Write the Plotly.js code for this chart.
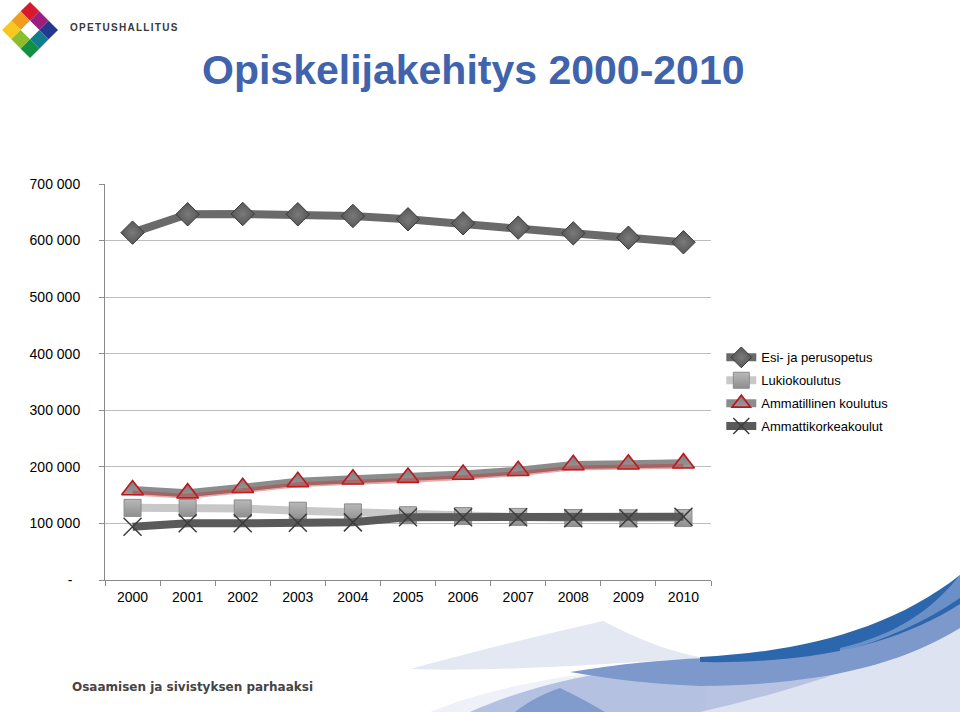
<!DOCTYPE html>
<html>
<head>
<meta charset="utf-8">
<script src="https://cdn.plot.ly/plotly-3.0.1.min.js"></script>
<style>
  html, body { margin: 0; padding: 0; background: #ffffff; }
  #wrap { position: relative; width: 960px; height: 712px; overflow: hidden; }
  #deco { position: absolute; left: 0; top: 0; }
  #brand { position: absolute; left: 70px; top: 22px; font-family: "Liberation Sans", Arial, sans-serif;
           font-size: 10px; font-weight: bold; letter-spacing: 1.3px; color: #3a3a3a; }
  #chart { position: absolute; left: 0; top: 0; width: 960px; height: 712px; }
</style>
</head>
<body>
<div id="wrap">
  <svg id="deco" width="960" height="712" viewBox="0 0 960 712">
    <!-- logo: 3x3 grid turned 45 degrees -->
    <g transform="translate(30,2) rotate(45)">
      <rect x="0" y="0" width="13.2" height="13.2" fill="#d7192d"/>
      <rect x="13.2" y="0" width="13.2" height="13.2" fill="#9a1f7f"/>
      <rect x="26.4" y="0" width="13.2" height="13.2" fill="#24388f"/>
      <rect x="0" y="13.2" width="13.2" height="13.2" fill="#f29c1f"/>
      <rect x="13.2" y="13.2" width="13.2" height="13.2" fill="#ffffff"/>
      <rect x="26.4" y="13.2" width="13.2" height="13.2" fill="#127c8c"/>
      <rect x="0" y="26.4" width="13.2" height="13.2" fill="#f8c81e"/>
      <rect x="13.2" y="26.4" width="13.2" height="13.2" fill="#8dbd2b"/>
      <rect x="26.4" y="26.4" width="13.2" height="13.2" fill="#119044"/>
    </g>
    <!-- waves -->
    <path d="M410,669 C480,650 545,634 603,621 C640,640 670,652 705,658 C600,664 500,672 410,669 Z" fill="#e4e8f3"/>
    <path d="M430,712 C470,695 520,684 570,676 C620,670 660,664 705,660 L705,712 Z" fill="#eef1f8"/>
    <path d="M470,712 C520,690 580,672 700,660 C820,650 900,625 960,585 L960,712 Z" fill="#aab9dc" fill-opacity="0.85"/>
    <path d="M700,712 C820,685 910,650 960,615 L960,712 Z" fill="#dde3f1"/>
    <path d="M570,672 C620,664 660,660 705,658 C820,652 900,630 960,600 L960,628 C900,665 820,685 700,686 C650,684 610,679 570,672 Z" fill="#7d98ca"/>
    <path d="M700,657 C800,652 890,630 960,575 L960,604 C900,642 820,664 700,662 Z" fill="#2c66ac"/>
    <path d="M840,648 C895,635 930,612 960,575 L960,598 C925,622 885,640 840,652 Z" fill="#86a2d3" fill-opacity="0.7"/>
    <path d="M515,712 C530,700 545,693 560,688 C575,695 590,703 605,712 Z" fill="#819ccc"/>
  </svg>
  <div id="brand">OPETUSHALLITUS</div>
  <div id="chart"></div>
</div>
<script>
const years = ["2000", "2001", "2002", "2003", "2004", "2005", "2006", "2007", "2008", "2009", "2010"];

const esiJaPerusopetus = [614000, 646500, 647000, 646500, 643500, 637600, 630500, 622800, 612800, 605000, 597000];
const lukiokoulutus = [127500, 127500, 126500, 122500, 119500, 114500, 113000, 111500, 109500, 109000, 109500];
const ammatillinen = [159000, 153500, 163000, 173500, 178000, 181000, 186500, 193000, 203500, 204500, 206500];
const ammattikorkeakoulut = [94000, 100200, 100200, 101300, 101900, 110800, 110800, 110800, 109000, 109000, 111900];

const yTickVals = [0, 100000, 200000, 300000, 400000, 500000, 600000, 700000];
const yTickText = ["-\u00a0\u00a0", "100 000", "200 000", "300 000", "400 000", "500 000", "600 000", "700 000"];

const traces = [
  {
    type: "scatter",
    mode: "lines+markers",
    name: "Esi- ja perusopetus",
    legendgroup: "a",
    x: years,
    y: esiJaPerusopetus,
    line: { color: "#6a6a6a", width: 8 },
    marker: {
      symbol: "diamond",
      size: 18,
      color: "#575757",
      gradient: { type: "radial", color: "#7a7a7a" },
      line: { color: "#3a3a3a", width: 1 },
    },
  },
  {
    type: "scatter",
    mode: "lines+markers",
    name: "Lukiokoulutus",
    legendgroup: "b",
    x: years,
    y: lukiokoulutus,
    line: { color: "#c8c8c8", width: 8 },
    marker: {
      symbol: "square",
      size: 17,
      color: "#b8b8b8",
      gradient: { type: "vertical", color: "#8f8f8f" },
      line: { color: "#8a8a8a", width: 1 },
    },
  },
  {
    // red shadow under the vocational line
    type: "scatter",
    mode: "lines",
    name: "shadow",
    showlegend: false,
    hoverinfo: "skip",
    x: years,
    y: ammatillinen,
    yaxis: "y2",
    line: { color: "rgba(200, 40, 40, 0.4)", width: 5 },
  },
  {
    type: "scatter",
    mode: "lines+markers",
    name: "Ammatillinen koulutus",
    legendgroup: "c",
    x: years,
    y: ammatillinen,
    line: { color: "#8c8c8c", width: 8 },
    marker: {
      symbol: "triangle-up",
      size: 19,
      color: "#7d7d7d",
      gradient: { type: "vertical", color: "#9a9a9a" },
      line: { color: "#c0141c", width: 1.6 },
    },
  },
  {
    type: "scatter",
    mode: "lines+markers",
    name: "Ammattikorkeakoulut",
    legendgroup: "d",
    x: years,
    y: ammattikorkeakoulut,
    line: { color: "#5a5a5a", width: 8 },
    marker: {
      symbol: "x-thin-open",
      size: 18,
      color: "#3c3c3c",
      line: { color: "#3c3c3c", width: 1.5 },
    },
  },
];

const layout = {
  width: 960,
  height: 712,
  margin: { l: 105, r: 249, t: 184, b: 132 },
  paper_bgcolor: "rgba(0,0,0,0)",
  plot_bgcolor: "rgba(0,0,0,0)",
  font: { family: "Liberation Sans, Arial, sans-serif", size: 14, color: "#000000" },
  title: {
    text: "<b>Opiskelijakehitys 2000-2010</b>",
    font: { family: "Liberation Sans, Arial, sans-serif", size: 41, color: "#3f64ad" },
    xref: "container",
    yref: "container",
    x: 0.493,
    y: 1 - 70 / 712,
    xanchor: "center",
    yanchor: "middle",
  },
  showlegend: true,
  legend: {
    x: 1.017,
    xanchor: "left",
    y: 0.6,
    yanchor: "top",
    traceorder: "grouped",
    tracegroupgap: 3,
    font: { size: 13, color: "#000000" },
    bgcolor: "rgba(0,0,0,0)",
  },
  xaxis: {
    type: "category",
    range: [-0.5, 10.5],
    showgrid: false,
    showline: true,
    linecolor: "#8a8a8a",
    linewidth: 1,
    ticks: "outside",
    tickson: "boundaries",
    ticklen: 5,
    tickcolor: "#8a8a8a",
    ticklabelstandoff: 4,
    tickfont: { size: 14, color: "#000000" },
    zeroline: false,
  },
  yaxis: {
    range: [0, 700000],
    tickvals: yTickVals,
    ticktext: yTickText,
    showgrid: true,
    gridcolor: "#bdbdbd",
    gridwidth: 1,
    showline: true,
    linecolor: "#8a8a8a",
    ticks: "outside",
    ticklen: 5,
    tickcolor: "#8a8a8a",
    ticklabelstandoff: 16,
    tickfont: { size: 14, color: "#000000" },
    zeroline: false,
  },
  yaxis2: {
    overlaying: "y",
    range: [5300, 705300],
    visible: false,
  },
  annotations: [
    {
      text: "<b>Osaamisen ja sivistyksen parhaaksi</b>",
      xref: "paper",
      yref: "paper",
      x: (70 - 105) / 606,
      y: (580 - 687) / 396,
      xanchor: "left",
      yanchor: "middle",
      showarrow: false,
      font: { family: "DejaVu Sans, sans-serif", size: 12, color: "#454545" },
    },
  ],
};

Plotly.newPlot("chart", traces, layout, { displayModeBar: false, responsive: false });
</script>
</body>
</html>
